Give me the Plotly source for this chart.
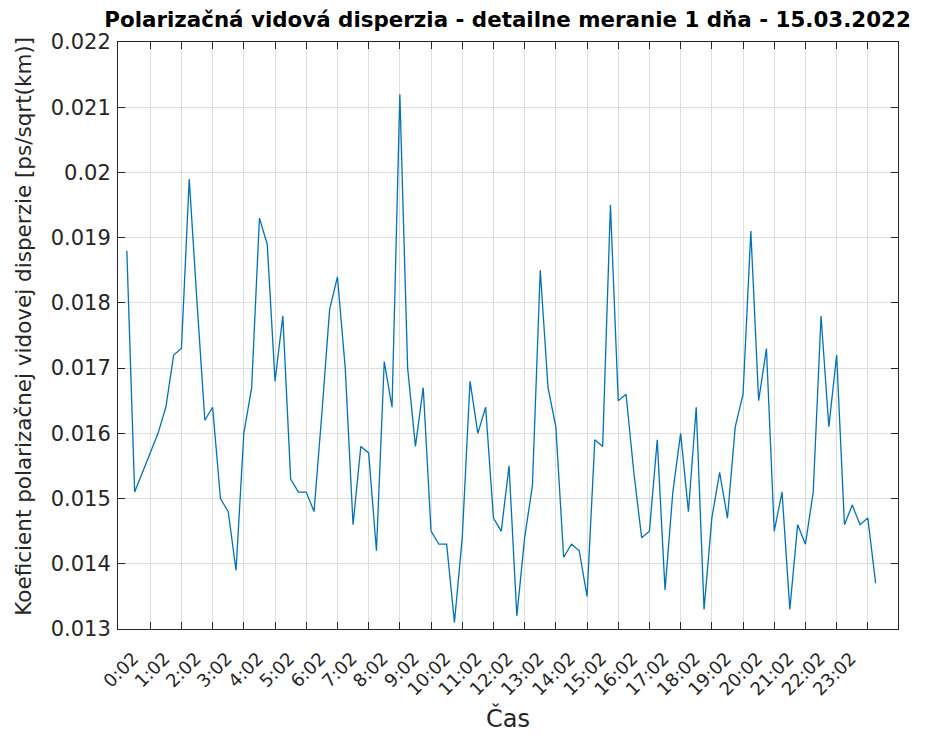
import plotly.graph_objects as go

# time of each sample in minutes relative to 0:00 (15-minute sampling)
start_min = -43
step_min = 15
pmd = [
    0.0188, 0.0151, 0.0154, 0.0157, 0.0160, 0.0164, 0.0172, 0.0173, 0.0199, 0.0180,
    0.0162, 0.0164, 0.0150, 0.0148, 0.0139, 0.0160, 0.0167, 0.0193, 0.0189, 0.0168,
    0.0178, 0.0153, 0.0151, 0.0151, 0.0148, 0.0163, 0.0179, 0.0184, 0.0170, 0.0146,
    0.0158, 0.0157, 0.0142, 0.0171, 0.0164, 0.0212, 0.0170, 0.0158, 0.0167, 0.0145,
    0.0143, 0.0143, 0.0131, 0.0144, 0.0168, 0.0160, 0.0164, 0.0147, 0.0145, 0.0155,
    0.0132, 0.0144, 0.0152, 0.0185, 0.0167, 0.0161, 0.0141, 0.0143, 0.0142, 0.0135,
    0.0159, 0.0158, 0.0195, 0.0165, 0.0166, 0.0154, 0.0144, 0.0145, 0.0159, 0.0136,
    0.0151, 0.0160, 0.0148, 0.0164, 0.0133, 0.0147, 0.0154, 0.0147, 0.0161, 0.0166,
    0.0191, 0.0165, 0.0173, 0.0145, 0.0151, 0.0133, 0.0146, 0.0143, 0.0151, 0.0178,
    0.0161, 0.0172, 0.0146, 0.0149, 0.0146, 0.0147, 0.0137,
]
times = [start_min + step_min * i for i in range(len(pmd))]

tick_minutes = [2 + 60 * h for h in range(24)]
tick_labels = [f"{h}:02" for h in range(24)]
y_ticks = [0.013, 0.014, 0.015, 0.016, 0.017, 0.018, 0.019, 0.020, 0.021, 0.022]
y_labels = ["0.013", "0.014", "0.015", "0.016", "0.017", "0.018", "0.019", "0.02", "0.021", "0.022"]

title = "Polarizačná vidová disperzia - detailne meranie 1 dňa - 15.03.2022"
x_title = "Čas"
y_title = "Koeficient polarizačnej vidovej disperzie [ps/sqrt(km)]"

FONT = "DejaVu Sans, Liberation Sans, Arial, sans-serif"
TXT = "#262626"

fig = go.Figure()
fig.add_trace(go.Scatter(x=times, y=pmd, mode="lines",
                         line=dict(color="#0072BD", width=1.3),
                         showlegend=False, hoverinfo="skip"))

axis_common = dict(showline=True, linecolor="#262626", linewidth=1,
                   mirror="ticks", ticks="inside", ticklen=7, tickcolor="#262626",
                   showgrid=True, gridcolor="#dedede", gridwidth=1, zeroline=False,
                   automargin=False)

fig.update_layout(
    width=910, height=727,
    margin=dict(l=110, r=20, t=34, b=106),
    paper_bgcolor="white", plot_bgcolor="white",
    font=dict(family=FONT, color=TXT),
    title=dict(text=f"<b>{title}</b>", x=0.549, xanchor="center",
               xref="container", yref="container", y=0.984, yanchor="middle",
               font=dict(size=21.4, color="black", family=FONT)),
    xaxis=dict(range=[-60, 1440], tickvals=tick_minutes, ticktext=tick_labels,
               tickangle=-45, tickfont=dict(size=18, color=TXT),
               ticklabelshift=-17, ticklabelstandoff=11, **axis_common),
    yaxis=dict(range=[0.013, 0.022], tickvals=y_ticks, ticktext=y_labels,
               tickfont=dict(size=21, color=TXT), ticklabelstandoff=2, **axis_common),
    annotations=[
        dict(text=x_title, xref="paper", yref="paper", x=0.5, y=-0.152,
             xanchor="center", yanchor="middle", showarrow=False,
             font=dict(size=24, color=TXT, family=FONT)),
        dict(text=y_title, xref="paper", yref="paper", x=-0.1205, y=0.515,
             xanchor="center", yanchor="middle", textangle=-90, showarrow=False,
             font=dict(size=21.5, color=TXT, family=FONT)),
    ],
)

fig.write_html("out.html")
